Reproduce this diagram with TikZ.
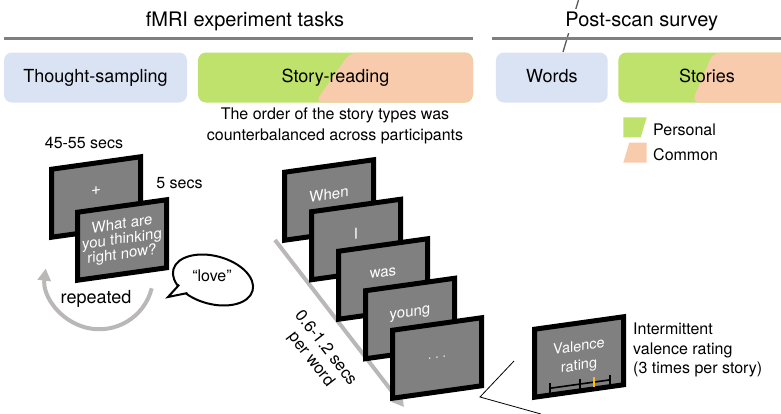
\documentclass[tikz,border=0pt]{standalone}
\usepackage{fontspec}
\setmainfont{TeX Gyre Heros}
\usetikzlibrary{arrows.meta,calc,shapes.geometric,positioning}
\definecolor{wordblue}{RGB}{218,227,243}
\definecolor{personal}{RGB}{190,226,108}
\definecolor{common}{RGB}{248,203,173}
\definecolor{screengray}{RGB}{128,128,128}
\definecolor{rulegray}{RGB}{127,127,127}
\definecolor{arrowgray}{RGB}{186,183,183}
\definecolor{tickorange}{RGB}{255,192,0}

\begin{document}
\begin{tikzpicture}[x=1pt, y=-1pt,
  title/.style={font=\fontsize{20}{24}\selectfont, anchor=base},
  txt/.style={font=\fontsize{16}{21}\selectfont, inner sep=0pt},
  hrule/.style={draw=rulegray, line width=3pt},
  task/.style={rounded corners=8pt, minimum height=50pt, text height=13pt,
    text depth=4pt, inner sep=0pt, font=\fontsize{18}{22}\selectfont},
  split/.style args={#1 and #2}{path picture={
      \fill[common] ([xshift=#1]path picture bounding box.north)
        -- (path picture bounding box.north east)
        -- (path picture bounding box.south east)
        -- ([xshift=#2]path picture bounding box.south) -- cycle;}},
  screen/.style={draw=black, fill=screengray, line width=5pt, yslant=0.14,
    minimum width=89pt, minimum height=68pt, inner sep=0pt, text=white,
    align=center, font=\fontsize{15}{15}\selectfont},
  word/.style={screen, text depth=12pt},
  grayarrow/.style={draw=arrowgray, line width=4pt,
    -{Triangle[length=12pt, width=13pt]}},
  bubble/.style={ellipse, draw, line width=2pt, rotate=-15, fill=white,
    minimum width=82pt, minimum height=48pt, inner sep=0pt}
  ]
  \useasboundingbox (0,0) rectangle (781,413);
  \clip (0,0) rectangle (781,413);

  % headings
  \draw[gray!70!black, line width=1.3pt] (578.5,0) -- (563,52);
  \node[title] (fmri) at (245,26) {fMRI experiment tasks};
  \node[title, fill=white, inner sep=2.5pt] (post) at (641.7,26) {Post-scan survey};
  \draw[hrule] (4,38) -- (473,38);
  \draw[hrule] (492,38) -- (781,38);

  % task boxes
  \node[task, fill=wordblue, minimum width=183pt] (thought) at (95.5,77.5) {Thought-sampling};
  \node[task, fill=personal, split=14.5pt and -20.5pt, minimum width=275pt] (story) at (335.5,77.5) {Story-reading};
  \node[task, fill=wordblue, minimum width=111.7pt] (words) at (551.8,77.5) {Words};
  \node[task, fill=personal, split=6pt and -15.3pt, minimum width=177.4pt] (stories) at (707,77.5) {Stories};

  \node[txt, align=center, anchor=north] (order) at (335,107.5)
    {The order of the story types was\\counterbalanced across participants};

  % legend
  \fill[personal] (623.3,117.3) -- (646.7,117.3) -- (640.7,137.3) -- (623.3,137.3) -- cycle;
  \fill[common] (629.3,142.7) -- (646.7,142.7) -- (646.7,162.7) -- (623.3,162.7) -- cycle;
  \node[txt, anchor=base west] (lpers) at (653,135) {Personal};
  \node[txt, anchor=base west] (lcomm) at (653,160) {Common};

  % thought sampling
  \node[txt, anchor=base] (dur1) at (84,148) {45-55 secs};
  \node[txt, anchor=base] (dur2) at (179.5,188) {5 secs};
  \node[word, font=\fontsize{17}{17}\selectfont] (fix) at (96,197) {+};
  \node[screen] (ask) at (122,240) {What are\\you thinking\\right now?};

  \coordinate (rstart) at (151.7,288.3);
  \draw[grayarrow] (rstart) arc[start angle=14, end angle=187, radius=54];
  \node[txt, font=\fontsize{18}{20}\selectfont, anchor=base] (rep) at (96,303) {repeated};

  \node[bubble] (bub) at (213,280) {};
  \coordinate (t1) at ($(bub.203)!0.08!(bub.center)$);
  \coordinate (t2) at ($(bub.222)!0.08!(bub.center)$);
  \coordinate (tip) at (168,297);
  \fill[white] (t1) -- (tip) -- (t2) -- cycle;
  \draw[line width=2pt] (t1) -- (tip) -- (t2);
  \node[txt] (love) at (212,276) {“love”};

  % story reading
  \coordinate (ts) at (275,240);
  \coordinate (te) at (404,407);
  \draw[grayarrow] (ts) -- (te);
  \node[txt, rotate=-52, align=center, font=\fontsize{16.5}{18.5}\selectfont] (rate) at (318,354)
    {0.6-1.2 secs\\per word};

  \foreach \w [count=\i] in {When,I,was,young}
    \node[word] (w\i) at ({302+27*\i},{160.5+39.5*\i}) {\w};
  \node[screen, font=\fontsize{12}{12}\selectfont] (w5) at (437,358) {.\,\,.\,\,.};

  % valence rating
  \coordinate (c1) at (514,361);
  \coordinate (c2) at (480,397);
  \coordinate (c3) at (541,414);
  \draw[line width=0.8pt] (c1) -- (c2) -- (c3);

  \node[screen, font=\fontsize{14.5}{19}\selectfont] (val) at (579,357) {Valence\\rating};
  \begin{scope}[shift={(val.center)}, yslant=0.14]
    \draw[line width=1.6pt] (-29,27.2) -- (31,27.2);
    \foreach \t in {-29,1,31}
      \draw[line width=1.6pt] (\t,22.2) -- (\t,32.2);
    \draw[tickorange, line width=2pt] (15,22.2) -- (15,32.2);
  \end{scope}

  \node[txt, font=\fontsize{16}{19.5}\selectfont, align=left, anchor=north west] (vlabel) at (633,323)
    {Intermittent\\valence rating\\(3 times per story)};
\end{tikzpicture}
\end{document}
